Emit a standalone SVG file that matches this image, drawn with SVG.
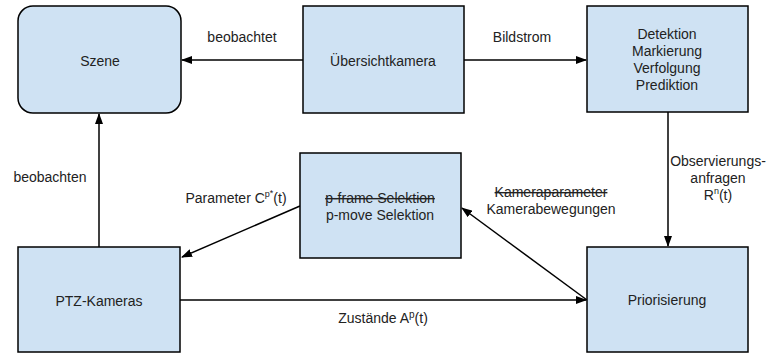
<svg xmlns="http://www.w3.org/2000/svg" width="779" height="353" viewBox="0 0 779 353">
<style>
.box{fill:#cfe2f3;stroke:#000;stroke-width:1.5}
.t{font-family:"Liberation Sans",Arial,sans-serif;font-size:14px;fill:#222;text-anchor:middle}
.c{stroke:#000;stroke-width:1.5;fill:none;marker-end:url(#ah)}
.s{text-decoration:line-through}
</style>
<defs>
<marker id="ah" markerUnits="userSpaceOnUse" markerWidth="11" markerHeight="8" refX="10" refY="4" orient="auto">
<path d="M0,0 L11,4 L0,8 z" fill="#000"/>
</marker>
</defs>
<rect width="779" height="353" fill="#fff"/>
<g id="connectors">
<line class="c" x1="303" y1="60" x2="182" y2="60"/>
<line class="c" x1="464" y1="60" x2="586" y2="60"/>
<line class="c" x1="99" y1="247" x2="99" y2="114"/>
<line class="c" x1="300" y1="206" x2="182" y2="257"/>
<line class="c" x1="587" y1="300" x2="462" y2="208"/>
<line class="c" x1="180" y1="300" x2="586" y2="300"/>
<line class="c" x1="668" y1="112" x2="668" y2="246"/>
<text class="t" x="242" y="42">beobachtet</text>
<text class="t" x="522" y="42">Bildstrom</text>
<text class="t" x="50" y="182">beobachten</text>
<text class="t" x="236" y="203">Parameter C<tspan font-size="9" dy="-6">p</tspan><tspan font-size="9" dy="-1">*</tspan><tspan dy="7">(t)</tspan></text>
<text class="t" x="551" y="197"><tspan class="s">Kameraparameter</tspan></text>
<text class="t" x="551" y="214">Kamerabewegungen</text>
<text class="t" x="718" y="166">Observierungs-</text>
<text class="t" x="718" y="183">anfragen</text>
<text class="t" x="718" y="200">R<tspan font-size="9" dy="-6">n</tspan><tspan dy="6">(t)</tspan></text>
<text class="t" x="383" y="323">Zustände A<tspan font-size="10" dy="-5">p</tspan><tspan dy="5">(t)</tspan></text>
</g>
<g id="szene">
<rect class="box" x="18" y="6" width="163" height="107" rx="15" ry="15"/>
<text class="t" x="100" y="66">Szene</text>
</g>
<g id="uebersichtkamera">
<rect class="box" x="303" y="6" width="161" height="107"/>
<text class="t" x="383" y="66">Übersichtkamera</text>
</g>
<g id="detektion">
<rect class="box" x="587" y="6" width="161" height="106"/>
<text class="t" x="667" y="39">Detektion</text>
<text class="t" x="667" y="56">Markierung</text>
<text class="t" x="667" y="73">Verfolgung</text>
<text class="t" x="667" y="90">Prediktion</text>
</g>
<g id="selektion">
<rect class="box" x="300" y="153" width="161" height="105"/>
<text class="t" x="380" y="203"><tspan class="s">p-frame Selektion</tspan></text>
<text class="t" x="380" y="220">p-move Selektion</text>
</g>
<g id="ptz">
<rect class="box" x="18" y="247" width="162" height="105"/>
<text class="t" x="99" y="306">PTZ-Kameras</text>
</g>
<g id="priorisierung">
<rect class="box" x="587" y="247" width="161" height="105"/>
<text class="t" x="667" y="305">Priorisierung</text>
</g>
</svg>
